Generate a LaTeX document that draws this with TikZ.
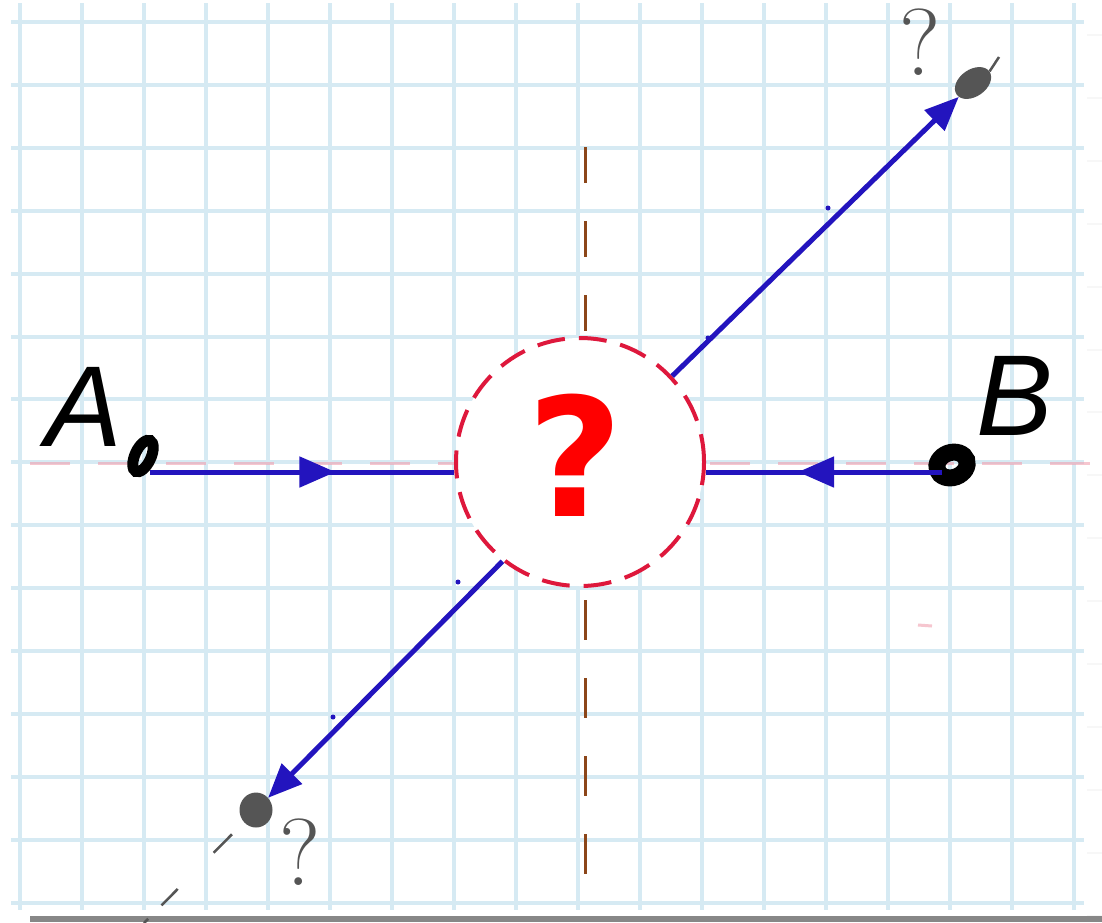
\documentclass[tikz,border=0pt]{standalone}
\usepackage{fontspec}
\usetikzlibrary{arrows.meta,decorations.markings,shapes.geometric}
\newfontfamily\handfont{Liberation Sans}
\newfontfamily\qfont{DejaVu Sans}
\definecolor{gridblue}{RGB}{214,234,243}
\definecolor{inkblue}{RGB}{35,20,190}
\definecolor{ringred}{RGB}{222,24,60}
\definecolor{axisbrown}{RGB}{140,70,25}
\definecolor{pinkaxis}{RGB}{240,160,175}
\definecolor{pencil}{RGB}{85,85,85}
\definecolor{shadowgray}{RGB}{135,135,135}
\tikzset{
  gridline/.style={gridblue,line width=4pt},
  conn/.style={color=inkblue,line width=5pt},
  midarrow/.style={postaction={decorate},decoration={markings,
     mark=at position #1 with {\arrow{Triangle[length=36pt,width=30pt]}}}},
  tipstyle/.style={-{Triangle[length=34pt,width=28pt]}},
  inkdot/.style={ellipse,draw=black,inner sep=0pt},
  pencildot/.style={ellipse,fill=pencil,inner sep=0pt},
  pencilq/.style={text=pencil,inner sep=0pt,font=\fontsize{95}{95}\selectfont},
  letter/.style={inner sep=0pt,font=\handfont\itshape\fontsize{115}{115}\selectfont},
  smalldot/.style={inkblue}
}
\begin{document}
\begin{tikzpicture}[x=1pt,y=-1pt]
\useasboundingbox (0,0) rectangle (1102,922);
\fill[white] (0,0) rectangle (1102,922);
% grid
\foreach \i in {0,...,17} \draw[gridline] (20+62*\i,3) -- (20+62*\i,910);
\foreach \j in {0,...,14} \draw[gridline] (11,22+62.9*\j) -- (1084,22+62.9*\j);
% right strip faint marks
\foreach \j in {0,...,14} \draw[gray!6,line width=2pt] (1087,35+62.9*\j) -- (1102,35+62.9*\j);
% bottom shadow
\fill[shadowgray] (30,916) rectangle (1102,922);
% pink horizontal axis
\draw[pinkaxis,opacity=0.6,line width=3pt,dash pattern=on 40pt off 28pt] (30,463) -- (1100,463);
\draw[pinkaxis,opacity=0.6,line width=3pt] (918,625) -- (932,626);
% brown vertical axis
\draw[axisbrown,line width=3pt,dash pattern=on 36pt off 38pt] (585,147) -- (585,336);
\draw[axisbrown,line width=3pt,dash pattern=on 40pt off 38pt] (585,600) -- (585,910);
% circle
\node[circle,draw=ringred,line width=4pt,dash pattern=on 28pt off 14pt,fill=white,
      minimum size=248pt,inner sep=0pt] (C) at (580,462) {};
\node[text=red,inner sep=0pt,font=\qfont\bfseries\fontsize{165}{165}\selectfont] (Q) at (575,455) {?};
% points A and B
\node[inkdot,line width=11pt,minimum width=16pt,minimum height=34pt,rotate=-25] (dotA) at (143,456) {};
\node[inkdot,line width=17pt,minimum width=31pt,minimum height=25pt,rotate=20] (dotB) at (952,465) {};
\node[letter] (labA) at (84,407) {A};
\node[letter] (labB) at (1015,396) {B};
% unknown points
\node[pencildot,minimum width=40pt,minimum height=27pt,rotate=35] (G1) at (973,83) {};
\node[pencildot,minimum width=33pt,minimum height=35pt] (G2) at (256,810) {};
\node[pencilq] (q1) at (920,42) {?};
\node[pencilq] (q2) at (300,852) {?};
\coordinate (tail1) at (999,57);
\coordinate (g2end) at (144,923);
\draw[pencil,line width=2.5pt] (G1.east) -- (tail1);
\draw[pencil,line width=2.5pt,dash pattern=on 26pt off 51pt on 23pt off 19pt on 30pt off 17pt,dash phase=149pt] (G2) -- (g2end);
% connectors
\coordinate (a0) at (150,472);
\coordinate (b0) at (942,472);
\draw[conn,midarrow=0.61] (a0) -- (a0 -| C.west);
\draw[conn,midarrow=0.61] (b0) -- (b0 -| C.east);
\draw[conn,tipstyle] (C.43) -- (G1);
\draw[conn,tipstyle] (C.232) -- (G2);
% small blue dots
\fill[smalldot] (828,208) circle (2.5pt);
\fill[smalldot] (708,338) circle (2.5pt);
\fill[smalldot] (458,582) circle (2.5pt);
\fill[smalldot] (333,717) circle (2.5pt);
\end{tikzpicture}
\end{document}
